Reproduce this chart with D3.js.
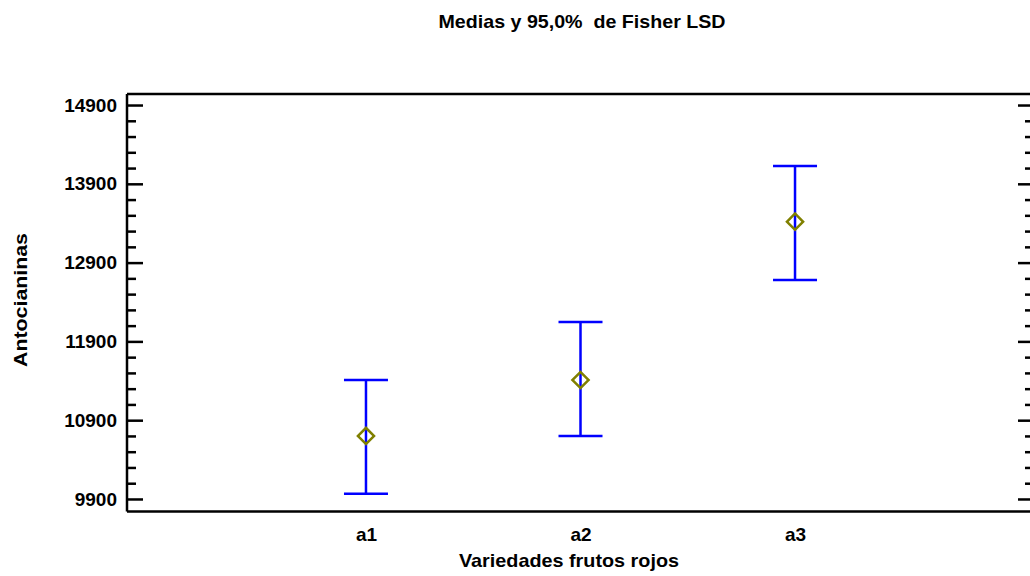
<!DOCTYPE html>
<html>
<head>
<meta charset="utf-8">
<script src="https://cdn.jsdelivr.net/npm/d3@7"></script>
<style>
  html, body { margin: 0; padding: 0; background: #fff; }
  svg { display: block; font-family: "Liberation Sans", Arial, sans-serif; }
  .keep { white-space: pre; }
</style>
</head>
<body>
<svg id="chart" width="1030" height="576"></svg>
<script>
const categories = ["a1", "a2", "a3"];
const means = [10700, 11410, 13420];
const lower = [9965, 10700, 12680];
const upper = [11410, 12145, 14125];
const majorTicks = [9900, 10900, 11900, 12900, 13900, 14900];
const titleText = "Medias y 95,0%  de Fisher LSD";
const xLabel = "Variedades frutos rojos";
const yLabel = "Antocianinas";

const svg = d3.select("#chart");
const L = 127, R = 1034, T = 94, B = 511.5;

const x = d3.scalePoint().domain(categories).range([L, R]).padding(1.114);
const y = d3.scaleLinear().domain([9741, 15040]).range([B, T]);

const minorTicks = d3.range(9900, 14901, 200).filter(v => !majorTicks.includes(v));

// frame lines
const frame = svg.append("g").attr("stroke", "#000").attr("stroke-width", 2.5).attr("fill", "none");
frame.append("line").attr("x1", L).attr("x2", R).attr("y1", T).attr("y2", T);
frame.append("line").attr("x1", L).attr("x2", R).attr("y1", B).attr("y2", B);

// left axis major
const gl = svg.append("g").attr("transform", `translate(${L},0)`)
  .call(d3.axisLeft(y).tickValues(majorTicks).tickSizeInner(-16).tickSizeOuter(0).tickPadding(10).tickFormat(d3.format("d")));
gl.select(".domain").remove();
gl.selectAll(".tick line").attr("stroke", "#000").attr("stroke-width", 2.5);
gl.selectAll(".tick text").attr("font-size", 19).attr("font-weight", "bold").attr("fill", "#000");

const glm = svg.append("g").attr("transform", `translate(${L},0)`)
  .call(d3.axisLeft(y).tickValues(minorTicks).tickSizeInner(-9).tickSizeOuter(0).tickFormat(""));
glm.select(".domain").remove();
glm.selectAll(".tick line").attr("stroke", "#000").attr("stroke-width", 2.5);

// right axis
const gr = svg.append("g").attr("transform", `translate(${R},0)`)
  .call(d3.axisRight(y).tickValues(majorTicks).tickSizeInner(-16).tickSizeOuter(0).tickFormat(""));
gr.select(".domain").remove();
gr.selectAll(".tick line").attr("stroke", "#000").attr("stroke-width", 2.5);
const grm = svg.append("g").attr("transform", `translate(${R},0)`)
  .call(d3.axisRight(y).tickValues(minorTicks).tickSizeInner(-9).tickSizeOuter(0).tickFormat(""));
grm.select(".domain").remove();
grm.selectAll(".tick line").attr("stroke", "#000").attr("stroke-width", 2.5);

// vertical frame lines
frame.raise();
frame.append("line").attr("x1", L).attr("x2", L).attr("y1", T).attr("y2", B);
frame.append("line").attr("x1", R).attr("x2", R).attr("y1", T).attr("y2", B);

// bottom axis labels
const gb = svg.append("g").attr("transform", `translate(0,${B})`)
  .call(d3.axisBottom(x).tickSize(0).tickPadding(16));
gb.select(".domain").remove();
gb.selectAll(".tick text").attr("font-size", 19).attr("font-weight", "bold").attr("fill", "#000");

// error bars
const data = categories.map((c, i) => ({ c, m: means[i], lo: lower[i], hi: upper[i] }));
const eb = svg.append("g").attr("stroke", "#0000ff").attr("stroke-width", 2.5).attr("fill", "none");
const capW = 22;
eb.selectAll(".v").data(data).join("line")
  .attr("x1", d => x(d.c)).attr("x2", d => x(d.c))
  .attr("y1", d => y(d.lo)).attr("y2", d => y(d.hi));
eb.selectAll(".ct").data(data).join("line")
  .attr("x1", d => x(d.c) - capW).attr("x2", d => x(d.c) + capW)
  .attr("y1", d => y(d.hi)).attr("y2", d => y(d.hi));
eb.selectAll(".cb").data(data).join("line")
  .attr("x1", d => x(d.c) - capW).attr("x2", d => x(d.c) + capW)
  .attr("y1", d => y(d.lo)).attr("y2", d => y(d.lo));

// means diamonds
svg.append("g").selectAll("path").data(data).join("path")
  .attr("d", d3.symbol(d3.symbolSquare, 130))
  .attr("transform", d => `translate(${x(d.c)},${y(d.m)}) rotate(45)`)
  .attr("fill", "none").attr("stroke", "#808000").attr("stroke-width", 2.5);

// title & labels
svg.append("text").attr("class", "keep").attr("x", 582).attr("y", 28).attr("text-anchor", "middle")
  .attr("font-size", 19).attr("font-weight", "bold").attr("textLength", 287).attr("lengthAdjust", "spacingAndGlyphs")
  .text(titleText);
svg.append("text").attr("x", 569).attr("y", 567).attr("text-anchor", "middle")
  .attr("font-size", 19).attr("font-weight", "bold").attr("textLength", 220).attr("lengthAdjust", "spacingAndGlyphs")
  .text(xLabel);
svg.append("text").attr("transform", "translate(27,300) rotate(-90)").attr("text-anchor", "middle")
  .attr("font-size", 19).attr("font-weight", "bold").attr("textLength", 134).attr("lengthAdjust", "spacingAndGlyphs")
  .text(yLabel);
</script>
</body>
</html>
